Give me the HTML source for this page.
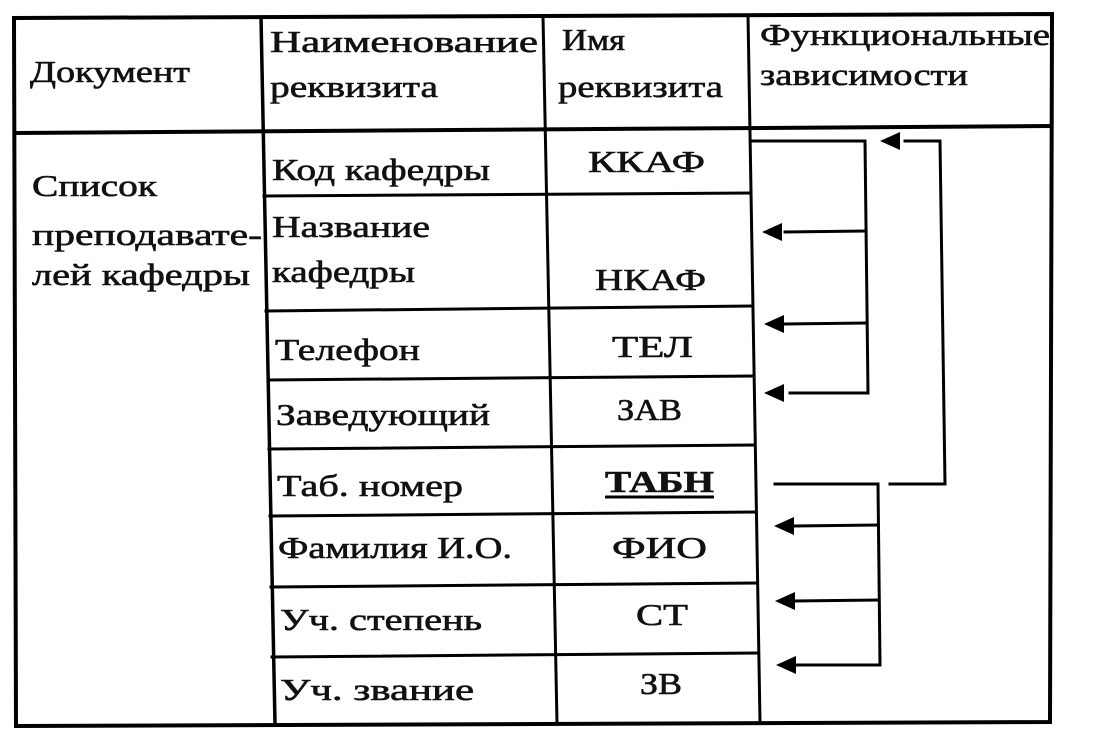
<!DOCTYPE html>
<html><head><meta charset="utf-8"><style>
body{margin:0;background:#fff;width:1102px;height:745px;overflow:hidden}
text{font-family:"Liberation Serif","Times New Roman",serif;font-size:31px;fill:#111;stroke:#111;stroke-width:0.6}
</style></head><body>
<svg width="1102" height="745" viewBox="0 0 1102 745" xmlns="http://www.w3.org/2000/svg">
<g stroke="#000" fill="none" stroke-linecap="square">
<polygon points="14,18 1052,14 1050,722 16,726" stroke-width="4"/>
<line x1="261" y1="17" x2="275" y2="724" stroke-width="3.5"/>
<line x1="543" y1="16" x2="557" y2="723" stroke-width="3"/>
<line x1="748" y1="15" x2="760" y2="722" stroke-width="3"/>
<line x1="15" y1="133" x2="1051" y2="126" stroke-width="4"/>
<g stroke-width="3">
<line x1="264" y1="196" x2="750" y2="193"/>
<line x1="266" y1="311" x2="752" y2="306"/>
<line x1="268" y1="380" x2="753" y2="376"/>
<line x1="269" y1="449" x2="754" y2="445"/>
<line x1="270" y1="516" x2="755" y2="512"/>
<line x1="271" y1="587" x2="756" y2="583"/>
<line x1="272" y1="657" x2="758" y2="653"/>
</g>
<g stroke-width="3">
<polyline points="752,141 865,141 868,393 790,393"/>
<line x1="866" y1="231" x2="785" y2="232"/>
<line x1="867" y1="323" x2="785" y2="324"/>
<polyline points="890,484 945,484 940,141 905,141"/>
<polyline points="775,484 878,484 880,665 795,665"/>
<line x1="878" y1="525" x2="795" y2="526"/>
<line x1="879" y1="600" x2="795" y2="601"/>
</g>
</g>
<g fill="#000">
<polygon points="762,232 782,223 782,241"/>
<polygon points="764,324 784,315 784,333"/>
<polygon points="764,393 784,384 784,402"/>
<polygon points="880,141 900,132 900,150"/>
<polygon points="774,526 794,517 794,535"/>
<polygon points="775,601 795,592 795,610"/>
<polygon points="776,665 796,656 796,674"/>
</g>
<g lengthAdjust="spacingAndGlyphs">
<text x="30" y="82" textLength="160" lengthAdjust="spacingAndGlyphs">Документ</text>
<text x="270" y="52" textLength="268" lengthAdjust="spacingAndGlyphs">Наименование</text>
<text x="270" y="97" textLength="168" lengthAdjust="spacingAndGlyphs">реквизита</text>
<text x="562" y="50" textLength="63" lengthAdjust="spacingAndGlyphs">Имя</text>
<text x="558" y="97" textLength="165" lengthAdjust="spacingAndGlyphs">реквизита</text>
<text x="760" y="45" textLength="290" lengthAdjust="spacingAndGlyphs">Функциональные</text>
<text x="760" y="85" textLength="208" lengthAdjust="spacingAndGlyphs">зависимости</text>
<text x="32" y="196" textLength="125" lengthAdjust="spacingAndGlyphs">Список</text>
<text x="32" y="245" textLength="230" lengthAdjust="spacingAndGlyphs">преподавате-</text>
<text x="32" y="285" textLength="218" lengthAdjust="spacingAndGlyphs">лей кафедры</text>
<text x="272" y="180" textLength="218" lengthAdjust="spacingAndGlyphs">Код кафедры</text>
<text x="272" y="237" textLength="158" lengthAdjust="spacingAndGlyphs">Название</text>
<text x="272" y="282" textLength="143" lengthAdjust="spacingAndGlyphs">кафедры</text>
<text x="275" y="360" textLength="145" lengthAdjust="spacingAndGlyphs">Телефон</text>
<text x="276" y="425" textLength="214" lengthAdjust="spacingAndGlyphs">Заведующий</text>
<text x="277" y="496" textLength="186" lengthAdjust="spacingAndGlyphs">Таб. номер</text>
<text x="278" y="558" textLength="234" lengthAdjust="spacingAndGlyphs">Фамилия И.О.</text>
<text x="280" y="630" textLength="202" lengthAdjust="spacingAndGlyphs">Уч. степень</text>
<text x="280" y="700" textLength="194" lengthAdjust="spacingAndGlyphs">Уч. звание</text>
<text x="588" y="172" textLength="117" lengthAdjust="spacingAndGlyphs">ККАФ</text>
<text x="595" y="290" textLength="111" lengthAdjust="spacingAndGlyphs">НКАФ</text>
<text x="612" y="357" textLength="81" lengthAdjust="spacingAndGlyphs">ТЕЛ</text>
<text x="617" y="420" textLength="65" lengthAdjust="spacingAndGlyphs">ЗАВ</text>
<text x="605" y="492" textLength="109" lengthAdjust="spacingAndGlyphs" style="font-weight:bold">ТАБН</text>
<text x="612" y="558" textLength="95" lengthAdjust="spacingAndGlyphs">ФИО</text>
<text x="636" y="625" textLength="52" lengthAdjust="spacingAndGlyphs">СТ</text>
<text x="640" y="694" textLength="42" lengthAdjust="spacingAndGlyphs">ЗВ</text>
</g>
<line x1="605" y1="497" x2="714" y2="497" stroke="#000" stroke-width="3"/>
</svg>
</body></html>
